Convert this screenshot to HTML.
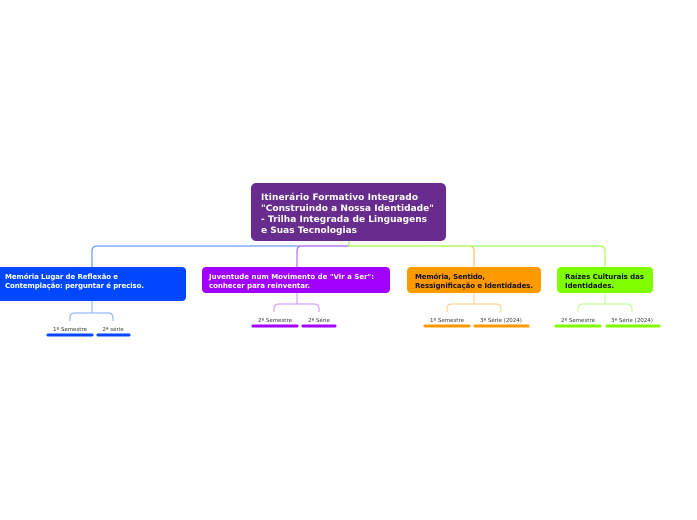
<!DOCTYPE html>
<html><head><meta charset="utf-8"><style>
html,body{margin:0;padding:0;background:#fff;width:697px;height:520px;overflow:hidden}
text{font-family:"DejaVu Sans","Liberation Sans",sans-serif}
.b{font-weight:bold}
</style></head><body>
<svg width="697" height="520" viewBox="0 0 697 520" xmlns="http://www.w3.org/2000/svg">
<g fill="none" stroke-width="1.2">
<path d="M349 241 V246 H97 Q92 246 92 251 V267" stroke="#6f9bff"/>
<path d="M349 246 H302 Q297 246 297 251 V267" stroke="#c36bff"/>
<path d="M349 246 H469 Q474 246 474 251 V267" stroke="#ffc060"/>
<path d="M349 241 V246 H600 Q605 246 605 251 V267" stroke="#a8ff50"/>
<path d="M92 301 V313 M75 313 H108 M75 313 Q70 313 70 318 V321 M108 313 Q113 313 113 318 V321" stroke="#9bb8ff"/>
<path d="M297 293 V304 M279 304 H314 M279 304 Q274 304 274 309 V312 M314 304 Q319 304 319 309 V312" stroke="#d9a0ff"/>
<path d="M474 293 V304 M452 304 H496 M452 304 Q447 304 447 309 V312 M496 304 Q501 304 501 309 V312" stroke="#ffd597"/>
<path d="M605 293 V304 M583 304 H627 M583 304 Q578 304 578 309 V312 M627 304 Q632 304 632 309 V312" stroke="#c8ff97"/>
</g>
<rect x="251" y="183" width="195" height="58" rx="5" fill="#682c8e"/>
<g class="b" fill="#fff" font-size="9" font-weight="bold">
<text x="261" y="200" textLength="157">Itinerário Formativo Integrado</text>
<text x="261" y="211" textLength="173">"Construindo a Nossa Identidade"</text>
<text x="261" y="222" textLength="166">- Trilha Integrada de Linguagens</text>
<text x="261" y="233" textLength="96">e Suas Tecnologias</text>
</g>
<rect x="-5" y="267" width="191" height="34" rx="4" fill="#0047ff"/>
<rect x="202" y="267" width="188" height="26" rx="4" fill="#a100ff"/>
<rect x="407" y="267" width="134" height="26" rx="4" fill="#ff9900"/>
<rect x="557" y="267" width="96" height="26" rx="4" fill="#80ff00"/>
<g font-size="7" font-weight="bold">
<text x="5" y="279" fill="#fff" textLength="113">Memória Lugar de Reflexão e</text>
<text x="5" y="288" fill="#fff" textLength="139">Contemplação: perguntar é preciso.</text>
<text x="209" y="279" fill="#fff" textLength="165">Juventude num Movimento de "Vir a Ser":</text>
<text x="209" y="288" fill="#fff" textLength="101">conhecer para reinventar.</text>
<text x="415" y="279" fill="#111" textLength="70">Memória, Sentido,</text>
<text x="415" y="288" fill="#111" textLength="118">Ressignificação e Identidades.</text>
<text x="565" y="279" fill="#111" textLength="79">Raízes Culturais das</text>
<text x="565" y="288" fill="#111" textLength="49">Identidades.</text>
</g>
<g font-size="5.5" fill="#333" text-anchor="middle">
<text x="70" y="331">1º Semestre</text>
<text x="113" y="331">2ª série</text>
<text x="275" y="322">2º Semestre</text>
<text x="319" y="322">2ª Série</text>
<text x="447" y="322">1º Semestre</text>
<text x="501" y="322">3ª Série (2024)</text>
<text x="578" y="322">2º Semestre</text>
<text x="632" y="322">3ª Série (2024)</text>
</g>
<g stroke-width="3" stroke-linecap="round">
<path d="M48 335 H92 M98 335 H129" stroke="#0047ff"/>
<path d="M253 326 H297 M303 326 H335" stroke="#a100ff"/>
<path d="M425 326 H469 M475 326 H528" stroke="#ff9900"/>
<path d="M556 326 H600 M607 326 H659" stroke="#80ff00"/>
</g>
</svg>
</body></html>
